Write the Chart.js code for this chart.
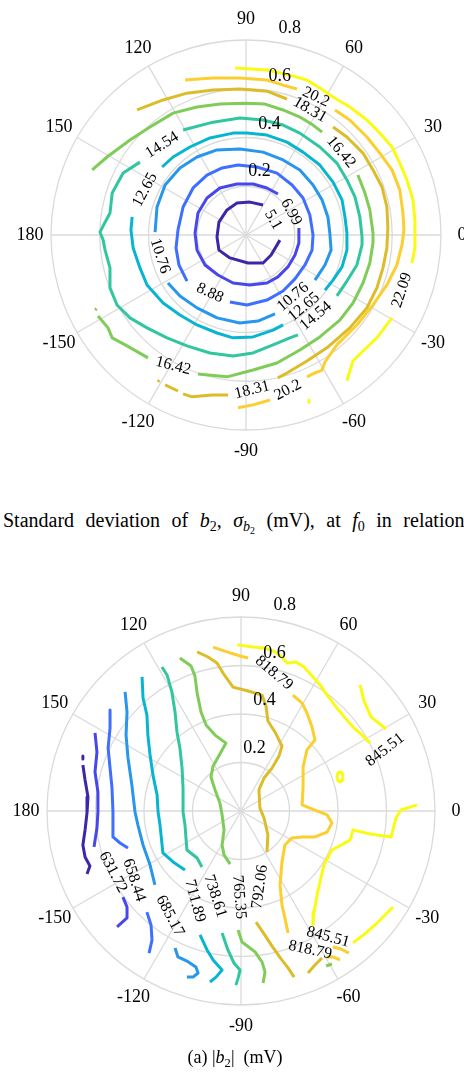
<!DOCTYPE html>
<html>
<head>
<meta charset="utf-8">
<script src="https://cdn.jsdelivr.net/npm/chart.js@4.4.1/dist/chart.umd.min.js"></script>
<style>
  html, body { margin: 0; padding: 0; background: #fff; }
  body { width: 464px; height: 1072px; position: relative; overflow: hidden; font-family: "Liberation Serif", serif; color: #000; }
  canvas { position: absolute; left: 0; }
  .caption { position: absolute; white-space: nowrap; line-height: 22px; }
  .caption sub { font-size: 70%; vertical-align: -0.3em; line-height: 0; }
  #capTop { left: 3px; top: 509px; font-size: 20px; word-spacing: 6.5px; }
  #capBottom { left: 3px; width: 464px; text-align: center; top: 1046px; font-size: 18px; }
</style>
</head>
<body>
<canvas id="sdChart" width="464" height="470" style="top:0"></canvas>
<div class="caption" id="capTop">Standard deviation of <i>b</i><sub>2</sub>, <i>σ</i><sub><i>b</i><sub>2</sub></sub> (mV), at <i>f</i><sub>0</sub> in relation to</div>
<canvas id="magChart" width="464" height="475" style="top:575px"></canvas>
<div class="caption" id="capBottom">(a) |<i>b</i><sub>2</sub>| &nbsp;(mV)</div>
<script>
// parula, one colour per contour level
const parula = ['#3e26a8', '#4747eb', '#3e6fff', '#2796eb', '#08b5d0', '#31c6a0', '#80cc59', '#dcbd29', '#fccf30', '#f9fb14'];

const angleTicks = [0, 30, 60, 90, 120, 150, 180, -150, -120, -90, -60, -30];
const radiusTicks = [0.2, 0.4, 0.6, 0.8];

// ---- sigma_b2 (mV): each level is a list of polyline pieces, points are [x, y] in radius units
const sdLevels = [5.1, 6.99, 8.88, 10.76, 12.65, 14.54, 16.42, 18.31, 20.2, 22.09];

const sd510 = [
  [[0.070, 0.123], [0.016, 0.135], [-0.037, 0.131], [-0.078, 0.103], [-0.111, 0.053], [-0.119, -0.008], [-0.111, -0.062], [-0.066, -0.094], [0.008, -0.115], [0.070, -0.115], [0.103, -0.082], [0.139, -0.021]]
];
const sd699 = [
  [[0.131, 0.168], [0.086, 0.193], [0.029, 0.209], [-0.037, 0.209], [-0.107, 0.193], [-0.160, 0.152], [-0.197, 0.090], [-0.209, 0.008], [-0.201, -0.062], [-0.168, -0.123], [-0.115, -0.164], [-0.053, -0.197], [0.016, -0.205], [0.086, -0.197], [0.131, -0.172], [0.172, -0.131], [0.201, -0.082], [0.217, -0.033], [0.217, 0.029]]
];
const sd888 = [
  [[-0.066, -0.275], [0.004, -0.287], [0.086, -0.267], [0.152, -0.230], [0.201, -0.180], [0.242, -0.123], [0.271, -0.062], [0.275, 0], [0.262, 0.082], [0.234, 0.152], [0.189, 0.205], [0.127, 0.254], [0.045, 0.279], [-0.033, 0.287], [-0.098, 0.275], [-0.160, 0.246], [-0.217, 0.193], [-0.258, 0.115], [-0.279, 0.021], [-0.287, -0.053], [-0.275, -0.123], [-0.242, -0.189]]
];
const sd1076 = [
  [[-0.373, 0.012], [-0.365, 0.115], [-0.332, 0.205], [-0.271, 0.275], [-0.201, 0.320], [-0.119, 0.349], [-0.025, 0.353], [0.070, 0.340], [0.152, 0.308], [0.221, 0.267], [0.275, 0.205], [0.312, 0.144], [0.336, 0.074], [0.344, 0.008], [0.349, -0.062], [0.324, -0.123], [0.283, -0.185]],
  [[-0.320, -0.197], [-0.271, -0.250], [-0.201, -0.299], [-0.119, -0.340], [-0.025, -0.361], [0.049, -0.353], [0.119, -0.324]]
];
const sd1265 = [
  [[0.152, -0.369], [0.111, -0.390], [0.029, -0.418], [-0.053, -0.422], [-0.119, -0.402], [-0.201, -0.369], [-0.271, -0.328], [-0.340, -0.279], [-0.406, -0.205], [-0.435, -0.135], [-0.463, -0.053], [-0.472, 0.021], [-0.467, 0.074]],
  [[-0.344, 0.279], [-0.299, 0.320], [-0.230, 0.361], [-0.148, 0.398], [-0.053, 0.418], [0.004, 0.418], [0.086, 0.410], [0.168, 0.381], [0.234, 0.340], [0.303, 0.287], [0.357, 0.217], [0.394, 0.144], [0.406, 0.074], [0.414, 0.008], [0.414, -0.062], [0.394, -0.131], [0.357, -0.185], [0.324, -0.226]]
];
const sd1454 = [
  [[0.213, -0.410], [0.180, -0.422], [0.111, -0.451], [0.029, -0.484], [-0.053, -0.496], [-0.148, -0.484], [-0.242, -0.455], [-0.324, -0.422], [-0.406, -0.381], [-0.476, -0.340], [-0.529, -0.287], [-0.558, -0.217], [-0.558, -0.135], [-0.578, -0.062], [-0.586, -0.021], [-0.599, 0.012], [-0.582, 0.045], [-0.558, 0.090], [-0.549, 0.172], [-0.504, 0.254], [-0.435, 0.299]],
  [[-0.258, 0.431], [-0.135, 0.463], [-0.025, 0.480], [0.070, 0.472], [0.152, 0.451], [0.221, 0.418], [0.303, 0.361], [0.373, 0.295], [0.414, 0.226], [0.447, 0.156], [0.467, 0.074], [0.476, -0.008], [0.476, -0.041], [0.455, -0.123], [0.414, -0.189], [0.373, -0.250]]
];
const sd1642 = [
  [[-0.631, 0.267], [-0.570, 0.320], [-0.476, 0.390], [-0.394, 0.443], [-0.299, 0.500], [-0.201, 0.525], [-0.107, 0.537], [-0.004, 0.541], [0.078, 0.537], [0.152, 0.513], [0.221, 0.484], [0.275, 0.451], [0.312, 0.422]],
  [[0.459, 0.246], [0.488, 0.172], [0.508, 0.103], [0.521, 0.008], [0.521, -0.033], [0.508, -0.115], [0.480, -0.197], [0.439, -0.279], [0.385, -0.349], [0.303, -0.418], [0.221, -0.472], [0.127, -0.525], [0.029, -0.554], [-0.078, -0.582], [-0.197, -0.570]],
  [[-0.402, -0.504], [-0.488, -0.455], [-0.549, -0.422], [-0.566, -0.381], [-0.607, -0.332]],
  [[-0.619, -0.308], [-0.613, -0.302]]
];
const sd1831 = [
  [[-0.447, 0.513], [-0.340, 0.554], [-0.242, 0.582], [-0.135, 0.595], [-0.025, 0.599], [0.086, 0.590], [0.168, 0.558]],
  [[0.357, 0.443], [0.414, 0.402], [0.480, 0.336], [0.521, 0.267], [0.558, 0.197], [0.578, 0.115], [0.582, 0.033], [0.578, -0.053], [0.562, -0.135], [0.537, -0.217], [0.496, -0.299], [0.426, -0.381], [0.332, -0.463], [0.250, -0.517], [0.168, -0.566], [0.131, -0.586]],
  [[-0.074, -0.656], [-0.139, -0.656], [-0.221, -0.664], [-0.258, -0.652]],
  [[-0.279, -0.640], [-0.332, -0.615]],
  [[-0.361, -0.603], [-0.356, -0.595]]
];
const sd2020 = [
  [[-0.250, 0.636], [-0.135, 0.644], [-0.025, 0.644], [0.086, 0.636], [0.152, 0.615], [0.209, 0.599]],
  [[0.365, 0.513], [0.426, 0.472], [0.496, 0.402], [0.549, 0.336], [0.599, 0.267], [0.631, 0.185], [0.644, 0.090], [0.648, 0.021], [0.640, -0.041], [0.619, -0.123], [0.578, -0.205], [0.521, -0.287], [0.455, -0.369], [0.373, -0.451], [0.324, -0.521], [0.312, -0.554], [0.283, -0.566], [0.250, -0.582]],
  [[0.098, -0.677], [0.029, -0.697], [-0.033, -0.709]]
];
const sd2209 = [
  [[-0.045, 0.685], [0.086, 0.677], [0.180, 0.656], [0.250, 0.636], [0.303, 0.603], [0.357, 0.566], [0.426, 0.525], [0.496, 0.472], [0.549, 0.418], [0.599, 0.361], [0.631, 0.295], [0.660, 0.226], [0.685, 0.144], [0.693, 0.062], [0.693, 0.008], [0.693, -0.049], [0.681, -0.115]],
  [[0.599, -0.340], [0.537, -0.422], [0.480, -0.476], [0.439, -0.517], [0.426, -0.558], [0.414, -0.599]],
  [[0.258, -0.677], [0.258, -0.686]]
];
const sdContours = [sd510, sd699, sd888, sd1076, sd1265, sd1454, sd1642, sd1831, sd2020, sd2209];

// inline labels: [text, x, y, rotation in degrees]
const sdLabels = [
  ['5.1', 0.111, 0.062, 60], ['6.99', 0.185, 0.094, 62], ['8.88', -0.148, -0.238, 25],
  ['10.76', -0.353, -0.086, 72], ['10.76', 0.193, -0.254, -40],
  ['12.65', -0.414, 0.185, -62], ['12.65', 0.238, -0.295, -40],
  ['14.54', -0.344, 0.369, -32], ['14.54', 0.287, -0.332, -40],
  ['16.42', 0.390, 0.340, 50], ['16.42', -0.299, -0.537, 14],
  ['18.31', 0.262, 0.513, 30], ['18.31', 0.025, -0.636, -14],
  ['20.2', 0.287, 0.566, 25], ['20.2', 0.172, -0.636, -28],
  ['22.09', 0.640, -0.226, -72]
];

// ---- |b2| (mV)
const magLevels = [605.0, 631.72, 658.44, 685.17, 711.89, 738.61, 765.35, 792.06, 818.79, 845.51];

const mag605 = [
  [[-0.652, 0.190], [-0.643, 0.128], [-0.631, 0.058], [-0.635, -0.008], [-0.643, -0.078], [-0.652, -0.140], [-0.643, -0.190], [-0.623, -0.227], [-0.635, -0.260]],
  [[-0.652, 0.227], [-0.652, 0.214]]
];
const mag632 = [
  [[-0.602, 0.322], [-0.594, 0.243], [-0.602, 0.161], [-0.590, 0.078], [-0.590, -0.004], [-0.594, -0.070], [-0.606, -0.148]],
  [[-0.487, -0.355], [-0.470, -0.396], [-0.470, -0.441], [-0.511, -0.478]]
];
const mag658 = [
  [[-0.540, 0.417], [-0.540, 0.342], [-0.548, 0.260], [-0.540, 0.177], [-0.532, 0.095], [-0.528, -0.004], [-0.528, -0.107], [-0.499, -0.132], [-0.466, -0.153]],
  [[-0.388, -0.417], [-0.371, -0.470], [-0.367, -0.532], [-0.379, -0.586]]
];
const mag685 = [
  [[-0.478, 0.491], [-0.470, 0.408], [-0.474, 0.313], [-0.466, 0.219], [-0.450, 0.107], [-0.437, -0.004], [-0.425, -0.058], [-0.404, -0.140], [-0.375, -0.223], [-0.355, -0.305]],
  [[-0.272, -0.565], [-0.260, -0.602], [-0.223, -0.619], [-0.186, -0.643], [-0.177, -0.668], [-0.198, -0.685], [-0.223, -0.685]]
];
const mag712 = [
  [[-0.408, 0.553], [-0.404, 0.466], [-0.388, 0.396], [-0.384, 0.313], [-0.375, 0.231], [-0.363, 0.148], [-0.346, 0.066], [-0.342, -0.004], [-0.334, -0.058], [-0.322, -0.173], [-0.280, -0.210], [-0.231, -0.243]],
  [[-0.169, -0.511], [-0.140, -0.573], [-0.115, -0.614], [-0.078, -0.656], [-0.103, -0.685], [-0.128, -0.705]]
];
const mag739 = [
  [[-0.326, 0.594], [-0.305, 0.561], [-0.285, 0.491], [-0.272, 0.408], [-0.264, 0.326], [-0.252, 0.260], [-0.243, 0.177], [-0.239, 0.095], [-0.239, -0.004], [-0.231, -0.058], [-0.223, -0.161], [-0.181, -0.194], [-0.161, -0.231]],
  [[-0.078, -0.503], [-0.054, -0.573], [-0.029, -0.627], [-0.004, -0.656], [-0.012, -0.689], [-0.021, -0.718]]
];
const mag765 = [
  [[-0.252, 0.631], [-0.206, 0.598], [-0.190, 0.557], [-0.181, 0.487], [-0.165, 0.408], [-0.144, 0.355], [-0.107, 0.313], [-0.062, 0.280], [-0.087, 0.235], [-0.115, 0.186], [-0.124, 0.140], [-0.107, 0.087], [-0.087, 0.033], [-0.078, -0.016], [-0.070, -0.078], [-0.078, -0.140], [-0.070, -0.181], [-0.045, -0.219]],
  [[-0.012, -0.491], [0.004, -0.540], [0.058, -0.581], [0.087, -0.623], [0.099, -0.664], [0.091, -0.709]],
  [[0.351, -0.639], [0.375, -0.631]]
];
const mag792 = [
  [[-0.181, 0.656], [-0.136, 0.635], [-0.099, 0.610], [-0.074, 0.569], [-0.033, 0.511], [0.029, 0.495], [0.087, 0.478], [0.103, 0.433], [0.111, 0.371], [0.140, 0.326], [0.169, 0.268], [0.157, 0.227], [0.128, 0.177], [0.095, 0.136], [0.074, 0.087], [0.078, 0.012], [0.095, -0.029], [0.111, -0.099], [0.107, -0.169]],
  [[0.062, -0.458], [0.095, -0.507], [0.128, -0.557], [0.165, -0.610], [0.194, -0.647], [0.219, -0.685]],
  [[0.276, -0.668], [0.305, -0.635], [0.334, -0.606]]
];
const mag819 = [
  [[-0.115, 0.676], [-0.058, 0.656], [-0.004, 0.639], [0.029, 0.631]],
  [[0.214, 0.478], [0.252, 0.445], [0.272, 0.404], [0.293, 0.346], [0.305, 0.293], [0.272, 0.252], [0.256, 0.181], [0.256, 0.099], [0.252, 0.025], [0.305, 0.004], [0.355, -0.016], [0.375, -0.049], [0.355, -0.087], [0.305, -0.107], [0.252, -0.107], [0.210, -0.111], [0.181, -0.140], [0.169, -0.210], [0.161, -0.305], [0.169, -0.388], [0.181, -0.441], [0.194, -0.503]],
  [[0.379, -0.561], [0.412, -0.569], [0.445, -0.586]],
  [[0.351, -0.602], [0.379, -0.602], [0.408, -0.614]]
];
const mag846 = [
  [[-0.016, 0.685], [0.049, 0.676], [0.099, 0.672], [0.140, 0.656], [0.169, 0.635], [0.190, 0.610], [0.227, 0.614], [0.260, 0.594], [0.297, 0.553], [0.326, 0.520], [0.355, 0.478], [0.392, 0.429], [0.429, 0.384], [0.462, 0.346], [0.499, 0.313], [0.532, 0.280]],
  [[0.491, 0.520], [0.507, 0.454], [0.536, 0.388], [0.598, 0.338]],
  [[0.421, 0.140], [0.417, 0.157], [0.408, 0.161], [0.400, 0.157], [0.396, 0.140], [0.400, 0.124], [0.408, 0.120], [0.417, 0.124], [0.421, 0.140]],
  [[0.726, 0.025], [0.660, 0.004], [0.639, -0.029], [0.619, -0.107], [0.532, -0.095], [0.462, -0.078], [0.450, -0.120], [0.375, -0.161], [0.342, -0.223], [0.318, -0.326], [0.301, -0.417], [0.297, -0.470]],
  [[0.462, -0.544], [0.515, -0.503], [0.561, -0.462], [0.594, -0.429], [0.627, -0.396]]
];
const magContours = [mag605, mag632, mag658, mag685, mag712, mag739, mag765, mag792, mag819, mag846];

const magLabels = [
  ['631.72', -0.528, -0.252, 62], ['658.44', -0.441, -0.285, 72], ['685.17', -0.293, -0.433, 62],
  ['711.89', -0.190, -0.371, 75], ['738.61', -0.107, -0.351, 72], ['765.35', -0.008, -0.355, 85],
  ['792.06', 0.078, -0.313, -82],
  ['818.79', 0.136, 0.569, 40], ['818.79', 0.285, -0.573, 12],
  ['845.51', 0.594, 0.252, -38], ['845.51', 0.359, -0.520, 15]
];

// ---- drawing
const GRID = '#dadada';
const TICK_FONT = '18px "Liberation Serif", serif';
const LABEL_FONT = '16px "Liberation Serif", serif';

// rings, spokes and tick labels of the polar frame, drawn from the x/y scales
const polarFrame = {
  id: 'polarFrame',
  beforeDatasetsDraw(chart) {
    const { ctx, scales: { x, y } } = chart;
    const ox = x.getPixelForValue(0), oy = y.getPixelForValue(0);
    const unit = x.getPixelForValue(1) - ox;
    const outer = radiusTicks[radiusTicks.length - 1] * unit;
    ctx.save();
    ctx.strokeStyle = GRID;
    ctx.lineWidth = 1.3;
    radiusTicks.forEach(r => {
      ctx.beginPath();
      ctx.arc(ox, oy, r * unit, 0, Math.PI * 2);
      ctx.stroke();
    });
    angleTicks.forEach(a => {
      const t = a * Math.PI / 180;
      ctx.beginPath();
      ctx.moveTo(ox, oy);
      ctx.lineTo(ox + outer * Math.cos(t), oy - outer * Math.sin(t));
      ctx.stroke();
    });
    ctx.restore();
  },
  afterDatasetsDraw(chart, args, opts) {
    const { ctx, scales: { x, y } } = chart;
    const ox = x.getPixelForValue(0), oy = y.getPixelForValue(0);
    const unit = x.getPixelForValue(1) - ox;
    const outer = radiusTicks[radiusTicks.length - 1] * unit;
    ctx.save();
    ctx.fillStyle = '#000';
    ctx.textAlign = 'center';
    ctx.textBaseline = 'middle';
    ctx.font = TICK_FONT;
    angleTicks.forEach(a => {
      const t = a * Math.PI / 180;
      const rr = outer + 21;
      ctx.fillText(String(a), ox + rr * Math.cos(t), oy - rr * Math.sin(t));
    });
    const rt = 78 * Math.PI / 180;
    radiusTicks.forEach(r => {
      const rr = r * unit + 16;
      ctx.fillText(r.toFixed(1), ox + rr * Math.cos(rt), oy - rr * Math.sin(rt));
    });
    ctx.font = LABEL_FONT;
    opts.labels.forEach(([txt, lx, ly, rot]) => {
      ctx.save();
      ctx.translate(x.getPixelForValue(lx), y.getPixelForValue(ly));
      ctx.rotate(rot * Math.PI / 180);
      ctx.fillText(txt, 0, 0);
      ctx.restore();
    });
    ctx.restore();
  }
};

function contourChart(canvasId, cx, cy, pxPerUnit, contours, labels) {
  const canvas = document.getElementById(canvasId);
  const w = canvas.width, h = canvas.height;
  const datasets = [];
  contours.forEach((pieces, i) => {
    pieces.forEach(piece => {
      datasets.push({
        data: piece.map(([px, py]) => ({ x: px, y: py })),
        showLine: true,
        borderColor: parula[i],
        borderWidth: 3,
        borderCapStyle: 'butt',
        borderJoinStyle: 'round',
        pointRadius: 0,
        pointHoverRadius: 0,
        fill: false,
        tension: 0
      });
    });
  });
  return new Chart(canvas, {
    type: 'scatter',
    data: { datasets },
    options: {
      responsive: false,
      animation: false,
      events: [],
      layout: { padding: 0 },
      plugins: { legend: { display: false }, tooltip: { enabled: false }, polarFrame: { labels } },
      scales: {
        x: { type: 'linear', display: false, min: -cx / pxPerUnit, max: (w - cx) / pxPerUnit },
        y: { type: 'linear', display: false, min: -(h - cy) / pxPerUnit, max: cy / pxPerUnit }
      }
    },
    plugins: [polarFrame]
  });
}

contourChart('sdChart', 246, 235, 243.75, sdContours, sdLabels);
contourChart('magChart', 241, 236, 242.5, magContours, magLabels);
</script>
</body>
</html>
